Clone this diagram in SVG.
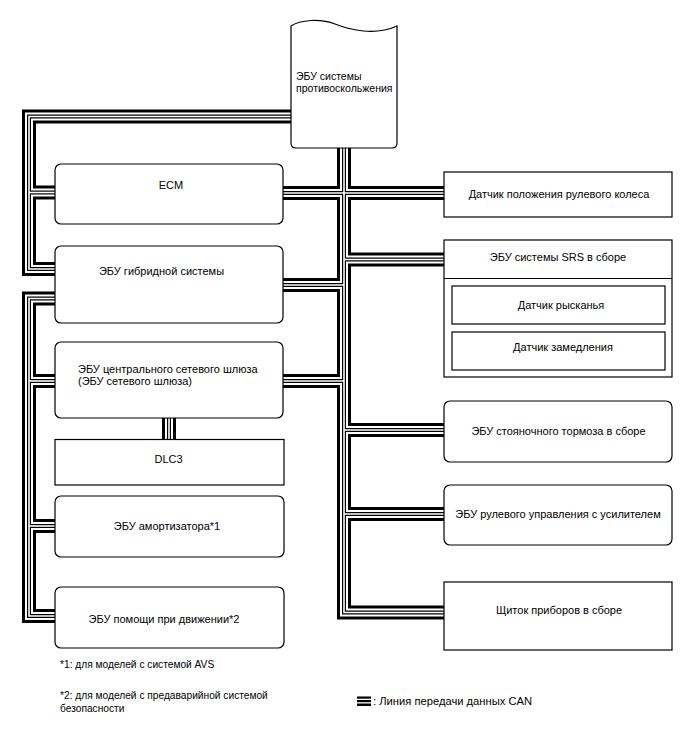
<svg xmlns="http://www.w3.org/2000/svg" width="688" height="755" viewBox="0 0 688 755">
<style>
.box{fill:#fff;stroke:#000;stroke-width:1.2}
.t{font-family:"Liberation Sans",Arial,sans-serif;font-size:11px;fill:#000}
.a{font-size:10.5px}
.f{font-size:10.2px}
.lg{font-size:11.2px}
.m{text-anchor:middle}
.bus{fill:none;stroke-linejoin:miter;stroke-linecap:butt}
.l1{stroke:#000;stroke-width:14}
.l2{stroke:#fff;stroke-width:8}
.l3{stroke:#000;stroke-width:4}
.l4{stroke:#fff;stroke-width:1.6}
</style>
<defs>
<g id="net">
<path d="M295,116.5 H29 V269 H60"/>
<path d="M29,192.5 H60"/>
<path d="M60,298.5 H29 V616 H60"/>
<path d="M29,381 H60"/>
<path d="M29,526 H60"/>
<path d="M344,144 V612.5 H448"/>
<path d="M278,193 H448"/>
<path d="M344,259.5 H448"/>
<path d="M278,285 H344"/>
<path d="M278,381 H344"/>
<path d="M344,430 H448"/>
<path d="M344,514 H448"/>
<path d="M169,414 V443"/>
</g>
</defs>
<g id="connectors" class="bus">
<use href="#net" class="l1"/>
<use href="#net" class="l2"/>
<use href="#net" class="l3"/>
<use href="#net" class="l4"/>
</g>
<g id="abs">
<path class="box" d="M291,26 C300,20 320,18 335,24 S375,36 397,26 V143 Q397,148 392,148 H296 Q291,148 291,143 Z"/>
<text class="t a" x="296" y="79.5">ЭБУ системы</text>
<text class="t a" x="296" y="92">противоскольжения</text>
</g>
<g id="ecm">
<rect class="box" x="55" y="164" width="228" height="60" rx="6"/>
<text class="t m" x="171" y="189">ECM</text>
</g>
<g id="hybrid">
<rect class="box" x="55" y="246" width="228" height="77" rx="6"/>
<text class="t m" x="161.5" y="274.5">ЭБУ гибридной системы</text>
</g>
<g id="gateway">
<rect class="box" x="55" y="342" width="228" height="76" rx="6"/>
<text class="t" x="78" y="372.5">ЭБУ центрального сетевого шлюза</text>
<text class="t" x="78" y="385">(ЭБУ сетевого шлюза)</text>
</g>
<g id="dlc3">
<rect class="box" x="55" y="439.5" width="229" height="45.5"/>
<text class="t m" x="168.5" y="462.5">DLC3</text>
</g>
<g id="shock">
<rect class="box" x="55" y="496" width="229" height="61" rx="6"/>
<text class="t m" x="167" y="530">ЭБУ амортизатора*1</text>
</g>
<g id="assist">
<rect class="box" x="55" y="587" width="229" height="61" rx="6"/>
<text class="t m" x="164" y="623">ЭБУ помощи при движении*2</text>
</g>
<g id="steer">
<rect class="box" x="444" y="172" width="228" height="45"/>
<text class="t m" x="559" y="197.5">Датчик положения рулевого колеса</text>
</g>
<g id="srs">
<rect class="box" x="444" y="240" width="228" height="137"/>
<line x1="444" y1="278.5" x2="672" y2="278.5" stroke="#000" stroke-width="1.2"/>
<text class="t m" x="558" y="261">ЭБУ системы SRS в сборе</text>
<g id="yaw">
<rect class="box" x="452" y="286" width="213" height="38"/>
<text class="t m" x="561" y="308.5">Датчик рысканья</text>
</g>
<g id="decel">
<rect class="box" x="452" y="332" width="213" height="38"/>
<text class="t m" x="563" y="351">Датчик замедления</text>
</g>
</g>
<g id="parking">
<rect class="box" x="444" y="401" width="228" height="61" rx="6"/>
<text class="t m" x="558.5" y="434.5">ЭБУ стояночного тормоза в сборе</text>
</g>
<g id="eps">
<rect class="box" x="444" y="485" width="228" height="60" rx="6"/>
<text class="t m" x="558" y="518">ЭБУ рулевого управления с усилителем</text>
</g>
<g id="cluster">
<rect class="box" x="444" y="582" width="228" height="68"/>
<text class="t m" x="559" y="613.5">Щиток приборов в сборе</text>
</g>
<g id="notes">
<text class="t f" x="60" y="668">*1: для моделей с системой AVS</text>
<text class="t f" x="60" y="699">*2: для моделей с предаварийной системой</text>
<text class="t f" x="60" y="712">безопасности</text>
<rect x="357" y="696.5" width="14" height="2.2" fill="#000"/>
<rect x="357" y="700" width="14" height="2.2" fill="#000"/>
<rect x="357" y="703.5" width="14" height="2.5" fill="#000"/>
<text class="t lg" x="373" y="705">: Линия передачи данных CAN</text>
</g>
</svg>
